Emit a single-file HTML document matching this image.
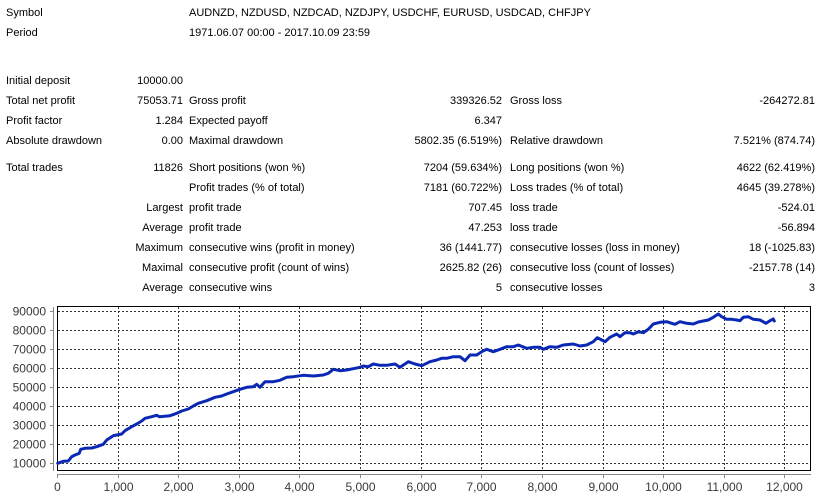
<!DOCTYPE html>
<html><head><meta charset="utf-8"><style>
html,body{margin:0;padding:0;background:#fff;}
body{width:826px;height:496px;position:relative;overflow:hidden;font-family:"Liberation Sans",Arial,sans-serif;font-size:11px;color:#000;}
.t{position:absolute;white-space:nowrap;line-height:14px;height:14px;}
</style></head><body>
<div class="t" style="left:6px;top:6px">Symbol</div>
<div class="t" style="left:189px;top:6px">AUDNZD, NZDUSD, NZDCAD, NZDJPY, USDCHF, EURUSD, USDCAD, CHFJPY</div>
<div class="t" style="left:6px;top:26px">Period</div>
<div class="t" style="left:189px;top:26px">1971.06.07 00:00 - 2017.10.09 23:59</div>

<div class="t" style="left:6px;top:74px">Initial deposit</div>
<div class="t" style="right:643px;top:74px">10000.00</div>

<div class="t" style="left:6px;top:94px">Total net profit</div>
<div class="t" style="right:643px;top:94px">75053.71</div>
<div class="t" style="left:189px;top:94px">Gross profit</div>
<div class="t" style="right:324px;top:94px">339326.52</div>
<div class="t" style="left:510px;top:94px">Gross loss</div>
<div class="t" style="right:11px;top:94px">-264272.81</div>

<div class="t" style="left:6px;top:114px">Profit factor</div>
<div class="t" style="right:643px;top:114px">1.284</div>
<div class="t" style="left:189px;top:114px">Expected payoff</div>
<div class="t" style="right:324px;top:114px">6.347</div>

<div class="t" style="left:6px;top:134px">Absolute drawdown</div>
<div class="t" style="right:643px;top:134px">0.00</div>
<div class="t" style="left:189px;top:134px">Maximal drawdown</div>
<div class="t" style="right:324px;top:134px">5802.35 (6.519%)</div>
<div class="t" style="left:510px;top:134px">Relative drawdown</div>
<div class="t" style="right:11px;top:134px">7.521% (874.74)</div>

<div class="t" style="left:6px;top:161px">Total trades</div>
<div class="t" style="right:643px;top:161px">11826</div>
<div class="t" style="left:189px;top:161px">Short positions (won %)</div>
<div class="t" style="right:324px;top:161px">7204 (59.634%)</div>
<div class="t" style="left:510px;top:161px">Long positions (won %)</div>
<div class="t" style="right:11px;top:161px">4622 (62.419%)</div>

<div class="t" style="left:189px;top:181px">Profit trades (% of total)</div>
<div class="t" style="right:324px;top:181px">7181 (60.722%)</div>
<div class="t" style="left:510px;top:181px">Loss trades (% of total)</div>
<div class="t" style="right:11px;top:181px">4645 (39.278%)</div>

<div class="t" style="right:643px;top:201px">Largest</div>
<div class="t" style="left:189px;top:201px">profit trade</div>
<div class="t" style="right:324px;top:201px">707.45</div>
<div class="t" style="left:510px;top:201px">loss trade</div>
<div class="t" style="right:11px;top:201px">-524.01</div>

<div class="t" style="right:643px;top:221px">Average</div>
<div class="t" style="left:189px;top:221px">profit trade</div>
<div class="t" style="right:324px;top:221px">47.253</div>
<div class="t" style="left:510px;top:221px">loss trade</div>
<div class="t" style="right:11px;top:221px">-56.894</div>

<div class="t" style="right:643px;top:241px">Maximum</div>
<div class="t" style="left:189px;top:241px">consecutive wins (profit in money)</div>
<div class="t" style="right:324px;top:241px">36 (1441.77)</div>
<div class="t" style="left:510px;top:241px">consecutive losses (loss in money)</div>
<div class="t" style="right:11px;top:241px">18 (-1025.83)</div>

<div class="t" style="right:643px;top:261px">Maximal</div>
<div class="t" style="left:189px;top:261px">consecutive profit (count of wins)</div>
<div class="t" style="right:324px;top:261px">2625.82 (26)</div>
<div class="t" style="left:510px;top:261px">consecutive loss (count of losses)</div>
<div class="t" style="right:11px;top:261px">-2157.78 (14)</div>

<div class="t" style="right:643px;top:281px">Average</div>
<div class="t" style="left:189px;top:281px">consecutive wins</div>
<div class="t" style="right:324px;top:281px">5</div>
<div class="t" style="left:510px;top:281px">consecutive losses</div>
<div class="t" style="right:11px;top:281px">3</div>

<svg width="826" height="496" style="position:absolute;left:0;top:0" xmlns="http://www.w3.org/2000/svg">
<g stroke="#333" stroke-width="1" stroke-dasharray="2,2" fill="none">
<line x1="58" y1="311.5" x2="810" y2="311.5"/>
<line x1="58" y1="330.5" x2="810" y2="330.5"/>
<line x1="58" y1="349.5" x2="810" y2="349.5"/>
<line x1="58" y1="368.5" x2="810" y2="368.5"/>
<line x1="58" y1="387.5" x2="810" y2="387.5"/>
<line x1="58" y1="406.5" x2="810" y2="406.5"/>
<line x1="58" y1="425.5" x2="810" y2="425.5"/>
<line x1="58" y1="444.5" x2="810" y2="444.5"/>
<line x1="58" y1="463.5" x2="810" y2="463.5"/>
<line x1="118.5" y1="307" x2="118.5" y2="470"/>
<line x1="178.5" y1="307" x2="178.5" y2="470"/>
<line x1="239.5" y1="307" x2="239.5" y2="470"/>
<line x1="299.5" y1="307" x2="299.5" y2="470"/>
<line x1="360.5" y1="307" x2="360.5" y2="470"/>
<line x1="421.5" y1="307" x2="421.5" y2="470"/>
<line x1="481.5" y1="307" x2="481.5" y2="470"/>
<line x1="542.5" y1="307" x2="542.5" y2="470"/>
<line x1="603.5" y1="307" x2="603.5" y2="470"/>
<line x1="663.5" y1="307" x2="663.5" y2="470"/>
<line x1="724.5" y1="307" x2="724.5" y2="470"/>
<line x1="784.5" y1="307" x2="784.5" y2="470"/>
</g>
<rect x="57.5" y="306.5" width="753" height="164" fill="none" stroke="#000" stroke-width="1"/>
<g stroke="#888" stroke-width="1" fill="none">
<line x1="53.5" y1="307" x2="53.5" y2="471"/>
<line x1="50" y1="311.5" x2="54" y2="311.5"/>
<line x1="50" y1="330.5" x2="54" y2="330.5"/>
<line x1="50" y1="349.5" x2="54" y2="349.5"/>
<line x1="50" y1="368.5" x2="54" y2="368.5"/>
<line x1="50" y1="387.5" x2="54" y2="387.5"/>
<line x1="50" y1="406.5" x2="54" y2="406.5"/>
<line x1="50" y1="425.5" x2="54" y2="425.5"/>
<line x1="50" y1="444.5" x2="54" y2="444.5"/>
<line x1="50" y1="463.5" x2="54" y2="463.5"/>
<line x1="57" y1="474.5" x2="811" y2="474.5"/>
<line x1="57.5" y1="474" x2="57.5" y2="478"/>
<line x1="118.5" y1="474" x2="118.5" y2="478"/>
<line x1="178.5" y1="474" x2="178.5" y2="478"/>
<line x1="239.5" y1="474" x2="239.5" y2="478"/>
<line x1="299.5" y1="474" x2="299.5" y2="478"/>
<line x1="360.5" y1="474" x2="360.5" y2="478"/>
<line x1="421.5" y1="474" x2="421.5" y2="478"/>
<line x1="481.5" y1="474" x2="481.5" y2="478"/>
<line x1="542.5" y1="474" x2="542.5" y2="478"/>
<line x1="603.5" y1="474" x2="603.5" y2="478"/>
<line x1="663.5" y1="474" x2="663.5" y2="478"/>
<line x1="724.5" y1="474" x2="724.5" y2="478"/>
<line x1="784.5" y1="474" x2="784.5" y2="478"/>
</g>
<g font-family="Liberation Sans, Arial, sans-serif" font-size="12" fill="#3a3a3a" text-anchor="end">
<text x="46" y="315.5">90000</text>
<text x="46" y="334.5">80000</text>
<text x="46" y="353.5">70000</text>
<text x="46" y="372.5">60000</text>
<text x="46" y="391.5">50000</text>
<text x="46" y="410.5">40000</text>
<text x="46" y="429.5">30000</text>
<text x="46" y="448.5">20000</text>
<text x="46" y="467.5">10000</text>
</g>
<g font-family="Liberation Sans, Arial, sans-serif" font-size="12" fill="#3a3a3a" text-anchor="middle">
<text x="57.5" y="491">0</text>
<text x="118.5" y="491">1,000</text>
<text x="178.5" y="491">2,000</text>
<text x="239.5" y="491">3,000</text>
<text x="299.5" y="491">4,000</text>
<text x="360.5" y="491">5,000</text>
<text x="421.5" y="491">6,000</text>
<text x="481.5" y="491">7,000</text>
<text x="542.5" y="491">8,000</text>
<text x="603.5" y="491">9,000</text>
<text x="663.5" y="491">10,000</text>
<text x="724.5" y="491">11,000</text>
<text x="784.5" y="491">12,000</text>
</g>
<polyline fill="none" stroke="#0a28b4" stroke-width="3" stroke-linejoin="round" stroke-linecap="round" points="57.7,463.3 63.3,461.3 68.3,461 71.7,456.7 75,455 79.3,453.3 80.7,449.3 85,448.3 91.7,448 96.7,446.7 103.3,444.3 106.7,440 113.3,435.7 116.7,435 121.7,434 125,430.7 131.7,426.7 136.7,424 141.7,421 145,418.3 151.7,416.7 156.7,415.3 159.3,416.7 170,415.7 176.7,413.3 181.7,411 188.3,409 193.3,406 198.3,403.3 206.7,400.7 215,397.3 221.7,396 226.7,394 233.3,391.7 240,389.3 246.7,387.3 253.3,386.7 256.7,384.3 260,387.3 265,381.7 273.3,381.7 280,380.3 286.7,377.3 293.3,376.7 303.3,375.3 313.3,376 323.3,375 328.3,373.3 333.3,369.3 340,370.7 346.7,370 353.3,368.7 360,367.3 363.3,366 368.3,366.7 373.3,364 380,365.3 386.7,365.3 395,364 400,367.3 408.3,361.7 415,364 421.7,365.7 426.7,363.3 430,361.7 436.7,360 441.7,358.3 446.7,358.3 453.3,356.7 460,356.7 465,360.7 470,355 476.7,355 481.7,351.7 486.7,349.3 493.3,351.7 500,349.3 506.7,346.7 513.3,346.7 518.3,345 526.7,348.3 533.3,347.3 540,347.3 543.3,349.3 550,346.7 556.7,347.3 563.3,345 573.3,344 580,346 586.7,345 593.3,341.7 597.3,337.7 601.7,340 605,341.7 610,337.3 616.7,334 620,336.7 625,332.7 630,332.7 633.3,334 638.3,331.7 643.3,332.7 648.3,329.3 653.3,324 660,322.3 666.7,321.7 671.7,323.3 675,324.3 680,321.7 686.7,323.3 693.3,324 698.3,322 703.3,321 708.3,320 713.3,317.3 718.3,314 721.7,316.7 726.7,319.3 731.7,319.3 736.7,320 740,320.7 743.3,317.3 748.3,316.7 753.3,319.3 760,320 766,323.3 770,320.7 773.3,319 774.3,321"/>
</svg>
</body></html>
